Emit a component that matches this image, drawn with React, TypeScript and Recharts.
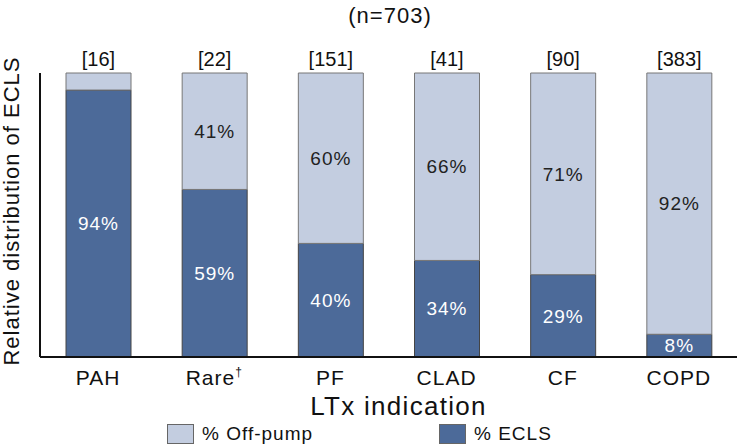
import { BarChart, Bar, XAxis, YAxis, LabelList, Legend } from 'recharts';

const categories = ['PAH', 'Rare', 'PF', 'CLAD', 'CF', 'COPD'];
const patientCounts = [16, 22, 151, 41, 90, 383];
const eclsPct = [94, 59, 40, 34, 29, 8];
const offPumpPct = [6, 41, 60, 66, 71, 92];

const LIGHT = '#c3cde0';
const DARK = '#4c6a99';
const FONT = '"Liberation Sans", Arial, Helvetica, sans-serif';

const data = categories.map((name, i) => ({
  name,
  n: patientCounts[i],
  ecls: eclsPct[i],
  offPump: offPumpPct[i],
}));

function CategoryTick({ x, y, payload }: any) {
  const isRare = payload.value === 'Rare';
  return (
    <text x={x} y={y + 20} textAnchor="middle" fontSize={21} letterSpacing={1} fill="#111" fontFamily={FONT}>
      <tspan>{payload.value}</tspan>
      {isRare && (
        <tspan dy={-9} fontSize={12}>†</tspan>
      )}
    </text>
  );
}

function LegendBox() {
  const items = [
    { label: '% Off-pump', color: LIGHT, left: 167 },
    { label: '% ECLS', color: DARK, left: 439 },
  ];
  return (
    <div style={{ position: 'relative', height: 26, width: 738 }}>
      {items.map(it => (
        <div
          key={it.label}
          style={{ position: 'absolute', left: it.left, top: 6, display: 'flex', alignItems: 'center' }}
        >
          <span
            style={{
              display: 'inline-block',
              width: 27,
              height: 20,
              background: it.color,
              border: '1px solid #666',
              boxSizing: 'border-box',
            }}
          />
          <span style={{ marginLeft: 8, fontSize: 19, letterSpacing: 1, color: '#111', fontFamily: FONT }}>
            {it.label}
          </span>
        </div>
      ))}
    </div>
  );
}

export default function App() {
  return (
    <div style={{ position: 'fixed', left: 0, top: 0, width: 738, height: 448, background: '#fff' }}>
      <BarChart
        width={738}
        height={448}
        data={data}
        margin={{ top: 73, right: 1, left: 39, bottom: 5 }}
        barSize={65}
      >
        <text x={390} y={23} textAnchor="middle" fontSize={22} letterSpacing={1} fill="#111" fontFamily={FONT}>
          (n=703)
        </text>
        <text
          x={19}
          y={211}
          textAnchor="middle"
          fontSize={22}
          letterSpacing={1}
          fill="#111"
          fontFamily={FONT}
          transform="rotate(-90 19 211)"
        >
          Relative distribution of ECLS
        </text>
        <XAxis
          dataKey="name"
          height={60}
          tickLine={false}
          axisLine={{ stroke: '#111', strokeWidth: 2 }}
          tick={<CategoryTick />}
          interval={0}
          label={{
            value: 'LTx indication',
            position: 'insideBottom',
            offset: 2,
            dx: 10,
            style: { fontSize: 26, letterSpacing: 1.3, fill: '#111', fontFamily: FONT },
          }}
        />
        <YAxis
          type="number"
          domain={[0, 100]}
          width={1}
          tick={false}
          tickLine={false}
          axisLine={{ stroke: '#111', strokeWidth: 2 }}
        />
        <Legend verticalAlign="bottom" content={<LegendBox />} wrapperStyle={{ left: 0, width: 738 }} />
        <Bar dataKey="ecls" stackId="a" fill={DARK} stroke="#444" strokeWidth={1} isAnimationActive={false} name="% ECLS">
          <LabelList
            dataKey="ecls"
            position="center"
            formatter={(v: any) => `${v}%`}
            style={{ fontSize: 19, letterSpacing: 1, fill: '#fff', fontFamily: FONT }}
          />
        </Bar>
        <Bar dataKey="offPump" stackId="a" fill={LIGHT} stroke="#777" strokeWidth={1} isAnimationActive={false} name="% Off-pump">
          <LabelList
            dataKey="offPump"
            position="center"
            formatter={(v: any) => (v >= 10 ? `${v}%` : '')}
            style={{ fontSize: 19, letterSpacing: 1, fill: '#222', fontFamily: FONT }}
          />
          <LabelList
            dataKey="n"
            position="top"
            offset={7}
            formatter={(v: any) => `[${v}]`}
            style={{ fontSize: 20, fill: '#111', fontFamily: FONT }}
          />
        </Bar>
      </BarChart>
    </div>
  );
}
